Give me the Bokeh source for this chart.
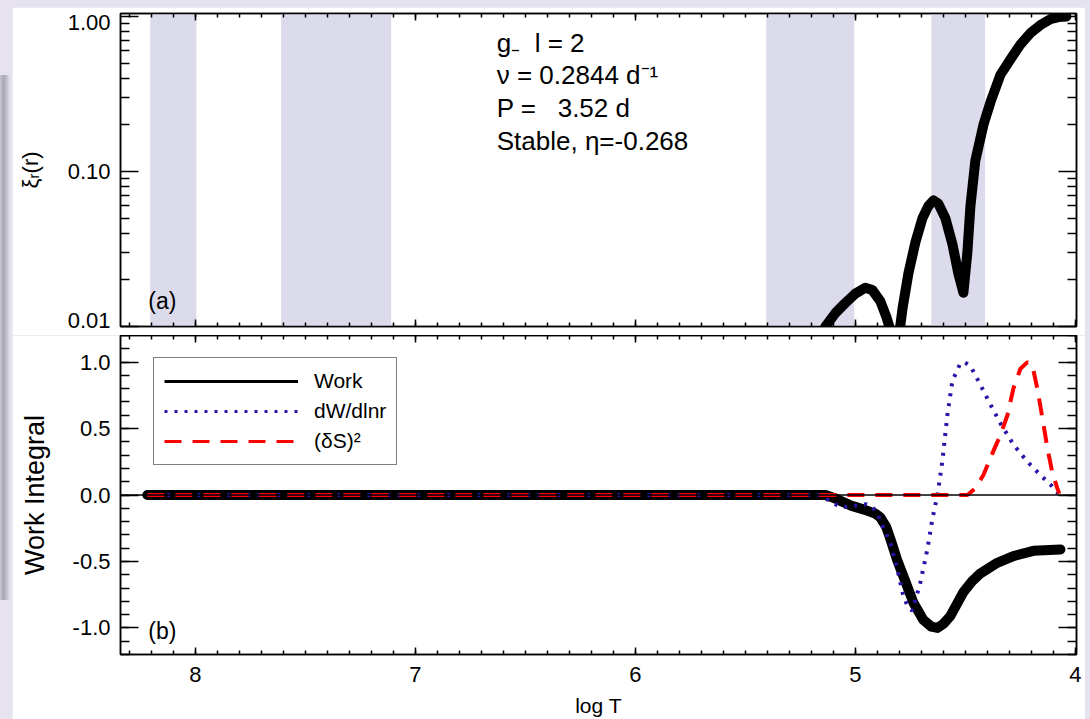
from bokeh.plotting import figure
from bokeh.models import (Range1d, LinearAxis, LogAxis, SingleIntervalTicker, FixedTicker,
                          PrintfTickFormatter, CustomJSTickFormatter, BoxAnnotation, Span,
                          Label, Legend, LegendItem, Spacer)
from bokeh.layouts import row, column
from bokeh.embed import file_html
from bokeh.resources import INLINE

FONT = "Liberation Sans"
NB = "\u00a0"

# ---- panel (a): radial displacement eigenfunction |xi_r| against log T ----
xi_logT = [5.250, 5.182, 5.136, 5.091, 5.045, 5.000, 4.955, 4.923, 4.886, 4.859,
           4.841, 4.827, 4.818, 4.805, 4.786, 4.759, 4.727, 4.695, 4.668, 4.645,
           4.623, 4.591, 4.559, 4.532, 4.509, 4.491, 4.477, 4.455, 4.418, 4.386,
           4.341, 4.295, 4.250, 4.205, 4.159, 4.114, 4.077, 4.041]
xi_amp = [0.004, 0.007, 0.0100, 0.0122, 0.0142, 0.0163, 0.0178, 0.0172, 0.0145, 0.0115,
          0.0095, 0.006, 0.004, 0.008, 0.013, 0.022, 0.035, 0.050, 0.060, 0.065,
          0.062, 0.050, 0.034, 0.022, 0.0165, 0.030, 0.060, 0.117, 0.20, 0.28,
          0.42, 0.53, 0.66, 0.78, 0.88, 0.96, 0.99, 1.0]
xi_major = [0.01, 0.1, 1.0]
xi_major_text = ["0.01", "0.10", "1.00"]
# label anchors: the end labels sit just inside the panel height
xi_label_at = [0.01093, 0.1, 0.914]

# convection zones (log T limits)
conv_hot = [8.205, 7.61, 5.405, 4.655]
conv_cool = [7.995, 7.11, 5.005, 4.41]

# ---- panel (b): work integral, its derivative and (dS)^2 ----
work_logT = [8.218, 5.200, 5.136, 5.100, 5.060, 5.020, 4.960, 4.910, 4.886, 4.860,
             4.841, 4.810, 4.782, 4.736, 4.691, 4.655, 4.627, 4.600, 4.568, 4.509,
             4.470, 4.432, 4.355, 4.282, 4.191, 4.068]
work_val = [0.0, 0.0, 0.0, -0.02, -0.05, -0.08, -0.11, -0.14, -0.17, -0.24,
            -0.33, -0.49, -0.61, -0.81, -0.94, -0.99, -1.0, -0.97, -0.91, -0.73,
            -0.65, -0.59, -0.51, -0.46, -0.42, -0.41]

dw_logT = [8.218, 5.160, 5.120, 5.080, 5.050, 5.000, 4.950, 4.930, 4.900, 4.886,
           4.841, 4.809, 4.782, 4.759, 4.741, 4.705, 4.673, 4.650, 4.627, 4.605,
           4.582, 4.559, 4.523, 4.505, 4.477, 4.432, 4.386, 4.341, 4.282, 4.218,
           4.159, 4.114, 4.077]
dw_val = [0.0, 0.0, -0.04, -0.08, -0.09, -0.08, -0.07, -0.08, -0.13, -0.20,
          -0.36, -0.56, -0.76, -0.85, -0.87, -0.66, -0.41, -0.18, 0.0, 0.25,
          0.60, 0.86, 0.99, 1.0, 0.97, 0.83, 0.68, 0.54, 0.38, 0.25,
          0.15, 0.08, 0.01]

ds_logT = [8.218, 4.491, 4.455, 4.418, 4.373, 4.341, 4.309, 4.282, 4.250, 4.218,
           4.195, 4.173, 4.150, 4.127, 4.105, 4.082, 4.073]
ds_val = [0.0, 0.0, 0.05, 0.15, 0.33, 0.45, 0.60, 0.80, 0.95, 1.0,
          0.97, 0.80, 0.58, 0.35, 0.17, 0.05, 0.01]

mode_lines = ["g\u208b" + NB * 2 + "l = 2",
              "\u03bd = 0.2844 d\u207b\u00b9",
              "P =" + NB * 3 + "3.52 d",
              "Stable, \u03b7=-0.268"]

PAGE_BG = "#e6e3ef"
BAND = "#dcdbeb"
BLUE = "#2a14a8"
RED = "#ff0000"

x_range = Range1d(8.34, 3.995)


def style_axis(ax, major_in, minor_in, labels=True, size="22px"):
    ax.major_tick_in = major_in
    ax.major_tick_out = 0
    ax.minor_tick_in = minor_in
    ax.minor_tick_out = 0
    ax.axis_line_color = "black"
    ax.axis_line_width = 1.5
    ax.major_tick_line_color = "black"
    ax.minor_tick_line_color = "black"
    ax.major_tick_line_width = 1.5
    ax.minor_tick_line_width = 1.5
    ax.axis_label_text_font = FONT
    ax.axis_label_text_font_style = "normal"
    ax.axis_label_text_color = "black"
    ax.major_label_text_font = FONT
    ax.major_label_text_color = "black"
    if labels:
        ax.major_label_text_font_size = size
        ax.major_label_standoff = 10
    else:
        # tick marks only on this side of the frame
        ax.formatter = CustomJSTickFormatter(code="return ''")
        ax.major_label_text_font_size = "1px"
        ax.major_label_standoff = 0


def x_ticker():
    return SingleIntervalTicker(interval=1, num_minor_ticks=10)


def log_ticker():
    minors = [k * 10.0 ** e for e in (-2, -1, 0) for k in range(2, 10)]
    return FixedTicker(ticks=xi_major, minor_ticks=minors)


# ------------------------------ panel (a) ------------------------------
p1 = figure(width=1073, height=328, x_range=x_range, y_range=Range1d(0.01, 1.045),
            y_axis_type="log", output_backend="svg", toolbar_location=None,
            min_border_left=108, min_border_right=9, min_border_top=6, min_border_bottom=9,
            background_fill_color="white", border_fill_color="white",
            outline_line_color="black", outline_line_width=1.5)
p1.grid.visible = False

for lo, hi in zip(conv_hot, conv_cool):
    p1.add_layout(BoxAnnotation(left=hi, right=lo, fill_color=BAND, fill_alpha=1.0,
                                line_color=None, level="underlay"))

p1.line(xi_logT, xi_amp, line_color="black", line_width=10, line_join="round",
        line_cap="round")

p1.xaxis.ticker = x_ticker()
style_axis(p1.xaxis[0], 7, 4, labels=False)
# inner left axis: tick marks on the frame edge
p1.yaxis.ticker = log_ticker()
style_axis(p1.yaxis[0], 18, 9, labels=False)
# outer left axis: the tick labels and the axis title
lab1 = LogAxis(ticker=FixedTicker(ticks=xi_label_at, minor_ticks=[]),
               formatter=CustomJSTickFormatter(
                   args=dict(at=xi_label_at, txt=xi_major_text),
                   code="let k = 0; for (let i = 1; i < at.length; i++) "
                        "{ if (Math.abs(at[i] - tick) < Math.abs(at[k] - tick)) k = i; } "
                        "return txt[k];"))
style_axis(lab1, 0, 0)
lab1.axis_line_color = None
lab1.major_tick_line_color = None
lab1.axis_label = "\u03be\u1d63(r)"
lab1.axis_label_text_font_size = "22px"
lab1.axis_label_standoff = 22
p1.add_layout(lab1, "left")

top1 = LinearAxis(ticker=x_ticker())
style_axis(top1, 7, 4, labels=False)
p1.add_layout(top1, "above")
right1 = LogAxis(ticker=log_ticker())
style_axis(right1, 18, 9, labels=False)
p1.add_layout(right1, "right")

text_y = [0.67, 0.418, 0.256, 0.157]
for line, ty in zip(mode_lines, text_y):
    p1.add_layout(Label(x=6.63, y=ty, text=line, text_font=FONT, text_font_size="26px",
                        text_color="black", text_baseline="middle", text_align="left"))
p1.add_layout(Label(x=8.214, y=0.0147, text="(a)", text_font=FONT, text_font_size="23px",
                    text_color="black", text_baseline="middle", text_align="left"))

# ------------------------------ panel (b) ------------------------------
p2 = figure(width=1073, height=384, x_range=x_range, y_range=Range1d(-1.2, 1.2),
            output_backend="svg", toolbar_location=None,
            min_border_left=108, min_border_right=9, min_border_top=0, min_border_bottom=10,
            background_fill_color="white", border_fill_color="white",
            outline_line_color="black", outline_line_width=1.5)
p2.grid.visible = False

p2.add_layout(Span(location=0, dimension="width", line_color="black", line_width=1.5))

p2.line(work_logT, work_val, line_color="black", line_width=10, line_join="round",
        line_cap="round")
p2.line(dw_logT, dw_val, line_color=BLUE, line_width=4, line_dash="3 7")
p2.line(ds_logT, ds_val, line_color=RED, line_width=4, line_dash="17 11")

# legend swatches (single-vertex lines: nothing drawn in the frame)
lg_work = p2.line(work_logT[:1], work_val[:1], line_color="black", line_width=3)
lg_dw = p2.line(dw_logT[:1], dw_val[:1], line_color=BLUE, line_width=3, line_dash="3 7")
lg_ds = p2.line(ds_logT[:1], ds_val[:1], line_color=RED, line_width=3, line_dash="17 11")

legend = Legend(items=[LegendItem(label="Work", renderers=[lg_work]),
                       LegendItem(label="dW/dlnr", renderers=[lg_dw]),
                       LegendItem(label="(\u03b4S)\u00b2", renderers=[lg_ds])],
                location=(33, 189), margin=0, padding=10, spacing=4,
                glyph_width=134, glyph_height=26, label_height=26, label_standoff=16,
                label_text_font=FONT, label_text_font_size="21px", label_text_color="black",
                border_line_color="black", border_line_width=1.5,
                background_fill_color="white", background_fill_alpha=1.0)
p2.add_layout(legend)

p2.xaxis.ticker = x_ticker()
style_axis(p2.xaxis[0], 7, 4)
p2.xaxis.major_label_standoff = 12
p2.xaxis.axis_label = "log T"
p2.xaxis.axis_label_text_font_size = "21px"
p2.xaxis.axis_label_standoff = 9

p2.yaxis.ticker = SingleIntervalTicker(interval=0.5, num_minor_ticks=5)
p2.yaxis.formatter = PrintfTickFormatter(format="%.1f")
style_axis(p2.yaxis[0], 18, 9)
p2.yaxis.axis_label = "Work Integral"
p2.yaxis.axis_label_text_font_size = "27px"
p2.yaxis.axis_label_standoff = 20

top2 = LinearAxis(ticker=x_ticker())
style_axis(top2, 7, 4, labels=False)
p2.add_layout(top2, "above")
right2 = LinearAxis(ticker=SingleIntervalTicker(interval=0.5, num_minor_ticks=5))
style_axis(right2, 18, 9, labels=False)
p2.add_layout(right2, "right")

p2.add_layout(Label(x=8.214, y=-1.023, text="(b)", text_font=FONT, text_font_size="23px",
                    text_color="black", text_baseline="middle", text_align="left"))

# page margin with the soft shadow strip on the left
shadow = Spacer(width=10, height=525,
                styles={"background": "linear-gradient(to right, #c9c7d2 0%, #a9a7b2 35%, "
                                      "#c4c2cd 70%, #e6e3ef 100%)"})
left_strip = column(Spacer(width=12, height=75), shadow, Spacer(width=12, height=119),
                    spacing=0, width=12)
inner = column(Spacer(height=7), p1, p2, spacing=0)
page = row(left_strip, inner, Spacer(width=5), spacing=0,
           styles={"background-color": PAGE_BG})

open("out.html", "w").write(file_html(page, INLINE))
